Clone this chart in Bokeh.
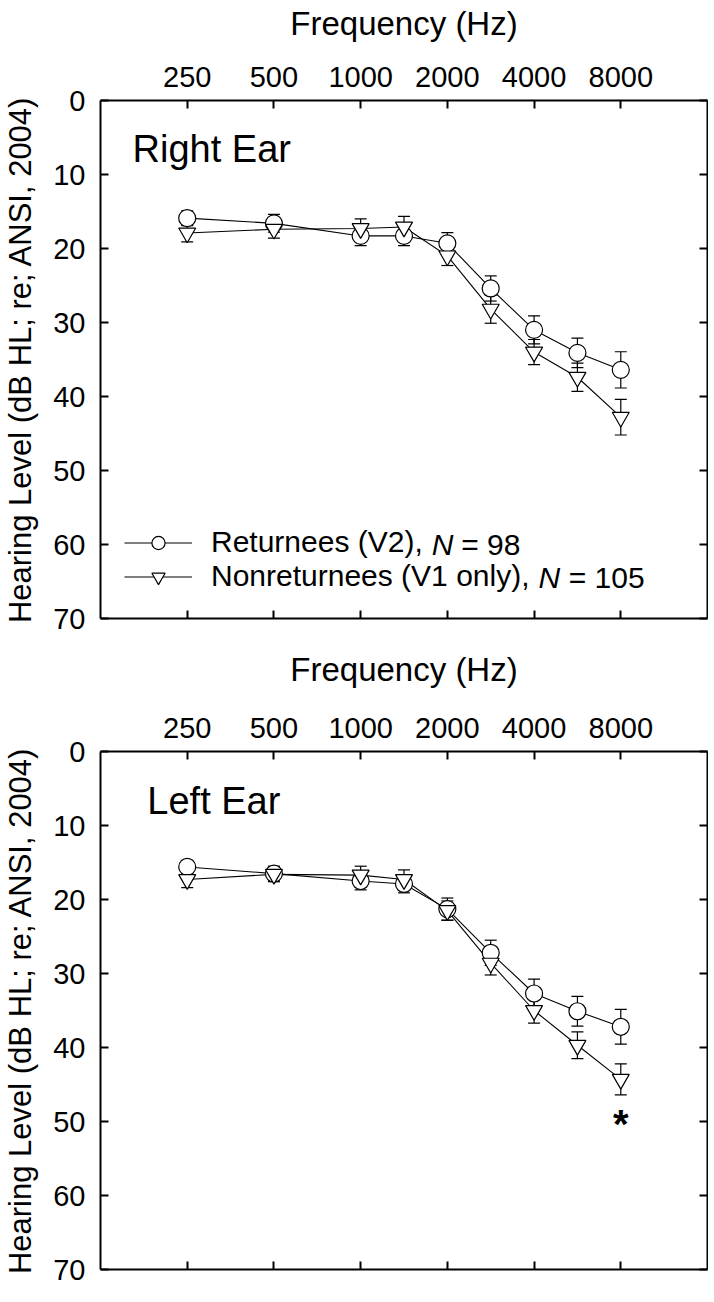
import numpy as np
from bokeh.plotting import figure
from bokeh.models import (Range1d, LinearAxis, FixedTicker, ColumnDataSource, Whisker,
                          TeeHead, Legend, LegendItem, Label, CustomJSTickFormatter)
from bokeh.layouts import column
from bokeh.embed import file_html
from bokeh.resources import INLINE

# ---------------- data ----------------
freqs = [250, 500, 1000, 1500, 2000, 3000, 4000, 6000, 8000]
tick_freqs = [250, 500, 1000, 2000, 4000, 8000]
y_ticks = [0, 10, 20, 30, 40, 50, 60, 70]

right_ret = [15.9, 16.6, 18.3, 18.3, 19.3, 25.4, 31.0, 34.1, 36.4]
right_ret_se = [1.0, 1.2, 1.3, 1.3, 1.45, 1.7, 1.9, 2.0, 2.45]
right_non = [17.9, 17.4, 17.3, 17.1, 21.0, 28.2, 34.0, 37.4, 42.8]
right_non_se = [1.2, 1.2, 1.3, 1.45, 1.3, 1.9, 1.7, 1.9, 2.4]

left_ret = [15.6, 16.5, 17.5, 17.9, 21.3, 27.2, 32.7, 35.1, 37.2]
left_ret_se = [0.9, 1.0, 1.2, 1.2, 1.5, 1.7, 1.95, 2.0, 2.35]
left_non = [17.3, 16.6, 16.7, 17.3, 21.5, 28.6, 35.0, 39.7, 44.3]
left_non_se = [1.1, 1.0, 1.2, 1.3, 1.3, 1.6, 1.7, 1.8, 2.1]

FONT = "Liberation Sans"


def audiogram_pos(f):
    """Audiogram x scale: octaves above 125 Hz, mid-octave frequencies at half steps."""
    o = np.log2(np.asarray(f, dtype=float) / 125.0)
    base = np.floor(o + 1e-9)
    return base + np.where(o - base > 1e-6, 0.5, 0.0)


x = audiogram_pos(freqs)
tick_pos = [float(v) for v in audiogram_pos(tick_freqs)]


def txt(p, x0, y0, text, size, style="normal", align="left"):
    p.add_layout(Label(x=x0, y=y0, text=text, text_font=FONT, text_font_size=size,
                       text_font_style=style, text_color="black",
                       text_baseline="middle", text_align=align))


def make_panel(ear_label, ear_xy, ret, ret_se, non, non_se, top_border, bottom_border,
               title_standoff, legend=False, star=None):
    p = figure(frame_width=607, frame_height=518,
               x_range=Range1d(0, 7), y_range=Range1d(70, 0),
               x_axis_location="above", output_backend="svg", toolbar_location=None,
               min_border_left=99, min_border_right=1,
               min_border_top=top_border, min_border_bottom=bottom_border)
    p.grid.visible = False
    p.outline_line_color = None
    p.background_fill_color = "white"

    # axes: labelled top and left, tick-only bottom and right
    p.add_layout(LinearAxis(formatter=CustomJSTickFormatter(code="return ''")), "below")
    p.add_layout(LinearAxis(formatter=CustomJSTickFormatter(code="return ''")), "right")
    for ax in p.xaxis:
        ax.ticker = FixedTicker(ticks=tick_pos)
    p.xaxis[0].major_label_overrides = {t: str(f) for t, f in zip(tick_pos, tick_freqs)}
    for ax in p.yaxis:
        ax.ticker = FixedTicker(ticks=y_ticks)
    for ax in list(p.xaxis) + list(p.yaxis):
        ax.axis_line_width = 2
        ax.axis_line_color = "black"
        ax.major_tick_line_width = 2
        ax.major_tick_line_color = "black"
        ax.major_tick_in = 8
        ax.major_tick_out = 0
        ax.minor_tick_line_color = None
        ax.major_label_text_font = FONT
        ax.major_label_text_font_size = "29px"
        ax.major_label_text_color = "black"
        ax.axis_label_text_font = FONT
        ax.axis_label_text_font_style = "normal"
        ax.axis_label_text_color = "black"
    p.xaxis[1].major_label_standoff = 0
    p.yaxis[1].major_label_standoff = 0

    top = p.xaxis[0]
    top.axis_label = "Frequency (Hz)"
    top.axis_label_text_font_size = "33px"
    top.major_label_standoff = 14
    top.axis_label_standoff = title_standoff

    left = p.yaxis[0]
    left.axis_label = "Hearing Level (dB HL; re; ANSI, 2004)"
    left.axis_label_text_font_size = "31px"
    left.major_label_standoff = 15
    left.axis_label_standoff = 12

    src_r = ColumnDataSource(dict(x=x, y=ret, lo=np.array(ret) - np.array(ret_se),
                                  hi=np.array(ret) + np.array(ret_se)))
    src_n = ColumnDataSource(dict(x=x, y=non, lo=np.array(non) - np.array(non_se),
                                  hi=np.array(non) + np.array(non_se)))

    l_r = p.line("x", "y", source=src_r, line_color="black", line_width=1.1)
    l_n = p.line("x", "y", source=src_n, line_color="black", line_width=1.1)

    def whisker(src):
        return Whisker(base="x", upper="hi", lower="lo", source=src, line_color="black",
                       line_width=1.2,
                       upper_head=TeeHead(size=12, line_color="black", line_width=1.2),
                       lower_head=TeeHead(size=12, line_color="black", line_width=1.2))

    p.add_layout(whisker(src_r))
    m_r = p.scatter("x", "y", source=src_r, marker="circle", size=17,
                    fill_color="white", line_color="black", line_width=1.2)
    p.add_layout(whisker(src_n))
    m_n = p.scatter("x", "y", source=src_n, marker="inverted_triangle", size=17,
                    fill_color="white", line_color="black", line_width=1.2)

    txt(p, ear_xy[0], ear_xy[1], ear_label, "38px")

    if legend:
        leg = Legend(items=[LegendItem(label="Returnees (V2),", renderers=[l_r, m_r]),
                            LegendItem(label="Nonreturnees (V1 only),", renderers=[l_n, m_n])],
                     location=(24, 25), orientation="vertical",
                     glyph_width=68, glyph_height=33, label_height=33, spacing=0,
                     label_standoff=19, padding=0, margin=0,
                     border_line_alpha=0, background_fill_alpha=0,
                     label_text_font=FONT, label_text_font_size="30px",
                     label_text_color="black")
        p.add_layout(leg)
        txt(p, 3.82, 60.0, "N", "30px", style="italic")
        txt(p, 4.16, 60.0, "= 98", "30px")
        txt(p, 5.05, 64.4, "N", "30px", style="italic")
        txt(p, 5.40, 64.4, "= 105", "30px")
    if star is not None:
        txt(p, star[0], star[1], "*", "40px", style="bold", align="center")
    return p


p1 = make_panel("Right Ear", (0.37, 6.6), right_ret, right_ret_se, right_non, right_non_se,
                top_border=100, bottom_border=18, title_standoff=22, legend=True)
p2 = make_panel("Left Ear", (0.54, 6.7), left_ret, left_ret_se, left_non, left_non_se,
                top_border=115, bottom_border=20, title_standoff=27,
                star=(float(audiogram_pos([8000])[0]), 50.4))

layout = column(p1, p2, spacing=0)
open("out.html", "w").write(file_html(layout, INLINE))
